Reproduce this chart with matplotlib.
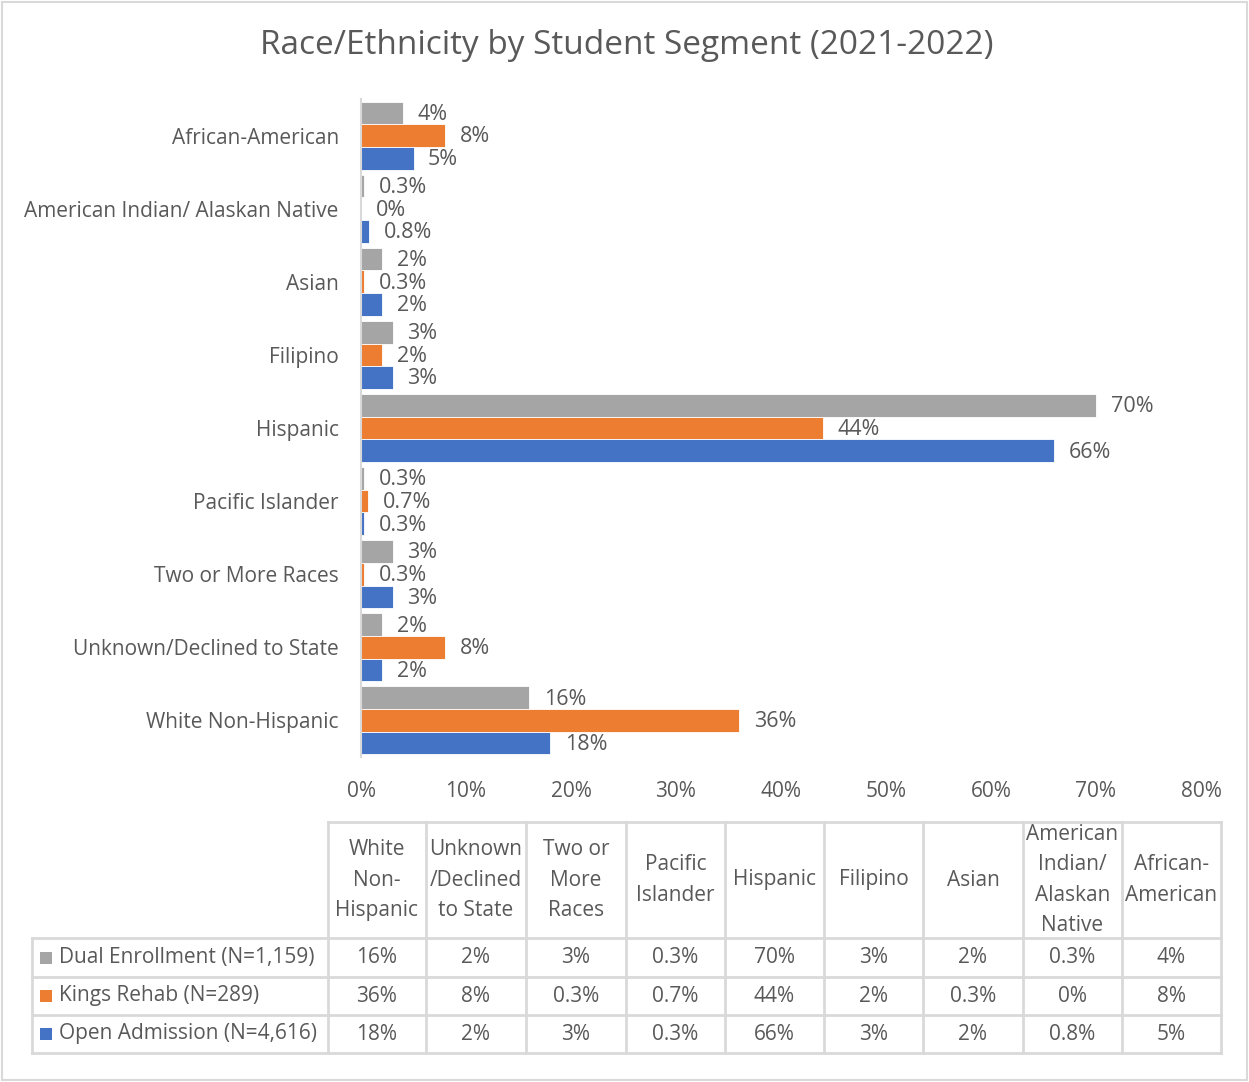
import numpy as np
import matplotlib.pyplot as plt
from matplotlib.patches import Rectangle

# Race/ethnicity shares (%) per student segment, listed top to bottom
categories = ['African-American', 'American Indian/ Alaskan Native', 'Asian',
              'Filipino', 'Hispanic', 'Pacific Islander', 'Two or More Races',
              'Unknown/Declined to State', 'White Non-Hispanic']
dual = [4, 0.3, 2, 3, 70, 0.3, 3, 2, 16]
kings = [8, 0, 0.3, 2, 44, 0.7, 0.3, 8, 36]
open_adm = [5, 0.8, 2, 3, 66, 0.3, 3, 2, 18]

series_names = ['Dual Enrollment (N=1,159)', 'Kings Rehab (N=289)',
                'Open Admission (N=4,616)']
colors = ['#A5A5A5', '#ED7D31', '#4472C4']

# data table runs in the reverse order of the bars
table_headers = ['White\nNon-\nHispanic', 'Unknown\n/Declined\nto State',
                 'Two or\nMore\nRaces', 'Pacific\nIslander', 'Hispanic',
                 'Filipino', 'Asian', 'American\nIndian/\nAlaskan\nNative',
                 'African-\nAmerican']
xticks = [0, 10, 20, 30, 40, 50, 60, 70, 80]

txt = '#595959'
plt.rcParams['font.family'] = ['Open Sans', 'DejaVu Sans']

def fmt(v):
    return f'{v:g}%'

fig = plt.figure(figsize=(12.49, 10.82), dpi=100)

# overlay in pixel coordinates for the border and data table
tax = fig.add_axes([0, 0, 1, 1], zorder=0)
tax.set_xlim(0, 1249)
tax.set_ylim(1082, 0)
tax.axis('off')
tax.add_patch(Rectangle((2, 2), 1245, 1078, fill=False, ec='#D9D9D9', lw=1.5))

ax = fig.add_axes([361/1249, 1 - 757/1082, 840/1249, 658/1082], zorder=1)
ax.patch.set_alpha(0)

h = 0.31
y = np.arange(len(categories))
for i, (vals, c) in enumerate(zip([dual, kings, open_adm], colors)):
    yy = y + (i - 1) * h
    ax.barh(yy, vals, height=h, color=c, edgecolor='white', linewidth=0.6)
    for v, yv in zip(vals, yy):
        ax.annotate(fmt(v), (v, yv), xytext=(10.5, -1), textcoords='offset points',
                    ha='left', va='center', fontsize=15.5, color=txt)

ax.set_xlim(0, 80)
ax.set_ylim(len(categories) - 0.5, -0.5)
ax.set_yticks(y)
ax.set_yticklabels(categories, fontsize=15, color=txt)
ax.set_xticks(xticks)
ax.set_xticklabels([f'{t}%' for t in xticks], fontsize=15, color=txt)
ax.tick_params(axis='both', length=0)
ax.tick_params(axis='y', pad=16)
ax.tick_params(axis='x', pad=17)
for s in ['top', 'right', 'bottom']:
    ax.spines[s].set_visible(False)
ax.spines['left'].set_color('#D9D9D9')
ax.spines['left'].set_linewidth(1.5)

fig.text(627/1249, 1 - 45/1082, 'Race/Ethnicity by Student Segment (2021-2022)',
         ha='center', va='center', fontsize=24, color=txt)

# data table
col_x = [328, 426, 526, 626, 725, 824, 923, 1023, 1122, 1221]
row_y = [822, 938, 977, 1015, 1053]
lc = '#D9D9D9'
tax.plot([col_x[0], col_x[-1]], [row_y[0]] * 2, color=lc, lw=2)
for ry in row_y[1:]:
    tax.plot([32, col_x[-1]], [ry, ry], color=lc, lw=2)
for cx in col_x:
    tax.plot([cx, cx], [row_y[0], row_y[-1]], color=lc, lw=2)
tax.plot([32, 32], [row_y[1], row_y[-1]], color=lc, lw=2)

for j, hd in enumerate(table_headers):
    cx = (col_x[j] + col_x[j + 1]) / 2
    tax.text(cx, (row_y[0] + row_y[1]) / 2, hd, ha='center', va='center',
             fontsize=15, color=txt, linespacing=1.6)

for r, (vals, name, c) in enumerate(zip([dual, kings, open_adm], series_names, colors)):
    cy = (row_y[r + 1] + row_y[r + 2]) / 2
    tax.add_patch(Rectangle((40, cy - 6), 12, 12, color=c, lw=0))
    tax.text(59, cy, name, ha='left', va='center', fontsize=15, color=txt)
    for j, v in enumerate(vals[::-1]):
        cx = (col_x[j] + col_x[j + 1]) / 2
        tax.text(cx, cy, fmt(v), ha='center', va='center', fontsize=15, color=txt)

fig.savefig('out.png', dpi=100)
